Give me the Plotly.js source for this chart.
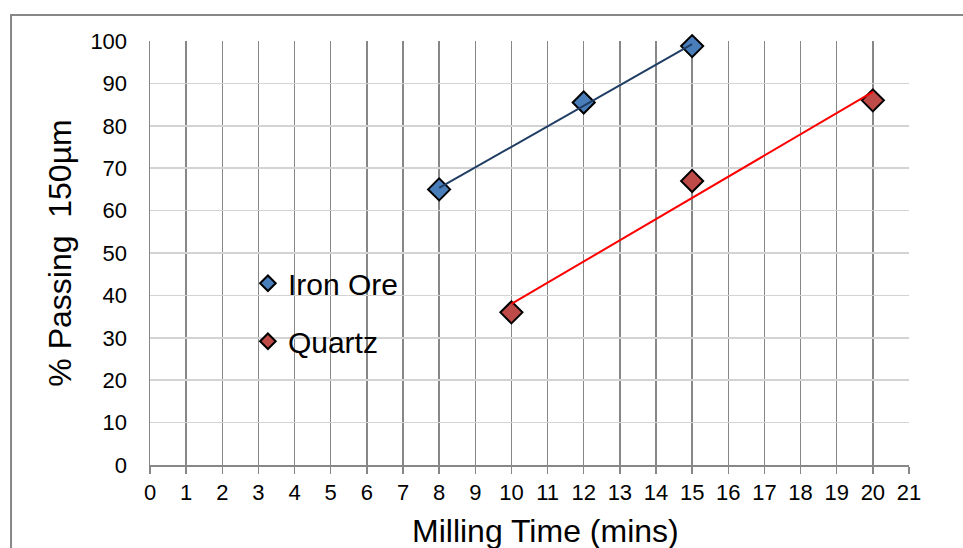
<!DOCTYPE html>
<html>
<head>
<meta charset="utf-8">
<script src="https://cdn.plot.ly/plotly-3.0.1.min.js"></script>
<style>
  html, body { margin: 0; padding: 0; background: #ffffff; }
  #chart { width: 963px; height: 548px; }
</style>
</head>
<body>
<div id="chart"></div>
<script>
// Milling time (minutes) and % passing 150 µm for each material
const ironOreTime = [8, 12, 15];
const ironOrePassing = [65, 85.5, 98.8];
const quartzTime = [10, 15, 20];
const quartzPassing = [36, 67, 86];

const xTickVals = [0, 1, 2, 3, 4, 5, 6, 7, 8, 9, 10, 11, 12, 13, 14, 15, 16, 17, 18, 19, 20, 21];
const yTickVals = [0, 10, 20, 30, 40, 50, 60, 70, 80, 90, 100];

const xTitle = 'Milling Time (mins)';
const yTitle = '% Passing  150µm';

// Least-squares linear trendline, drawn across the span of the data
function linearTrend(xs, ys) {
  const n = xs.length;
  const mx = xs.reduce((a, b) => a + b, 0) / n;
  const my = ys.reduce((a, b) => a + b, 0) / n;
  let sxy = 0, sxx = 0;
  for (let i = 0; i < n; i++) {
    sxy += (xs[i] - mx) * (ys[i] - my);
    sxx += (xs[i] - mx) * (xs[i] - mx);
  }
  const slope = sxy / sxx;
  const x0 = Math.min(...xs), x1 = Math.max(...xs);
  return { x: [x0, x1], y: [my + slope * (x0 - mx), my + slope * (x1 - mx)] };
}

const ironTrend = linearTrend(ironOreTime, ironOrePassing);
const quartzTrend = linearTrend(quartzTime, quartzPassing);

const FONT = 'Liberation Sans, Arial, sans-serif';
const AXIS_GREY = '#878787';

const traces = [
  {
    x: ironOreTime, y: ironOrePassing, name: 'Iron Ore', type: 'scatter', mode: 'markers',
    legendgroup: 'iron', cliponaxis: false,
    marker: { symbol: 'diamond', size: 17, color: '#4a7ebb', line: { color: '#000000', width: 2 } },
    hoverinfo: 'x+y'
  },
  {
    x: quartzTime, y: quartzPassing, name: 'Quartz', type: 'scatter', mode: 'markers',
    legendgroup: 'quartz', cliponaxis: false,
    marker: { symbol: 'diamond', size: 17, color: '#be4b48', line: { color: '#000000', width: 2 } },
    hoverinfo: 'x+y'
  },
  {
    x: ironTrend.x, y: ironTrend.y, type: 'scatter', mode: 'lines', showlegend: false,
    cliponaxis: false,
    line: { color: '#1f3d63', width: 2 }, hoverinfo: 'skip'
  },
  {
    x: quartzTrend.x, y: quartzTrend.y, type: 'scatter', mode: 'lines', showlegend: false,
    cliponaxis: false,
    line: { color: '#ff0000', width: 2 }, hoverinfo: 'skip'
  }
];

const layout = {
  width: 963,
  height: 548,
  margin: { l: 150, r: 54, t: 41, b: 83, pad: 0 },
  paper_bgcolor: '#ffffff',
  plot_bgcolor: '#ffffff',
  font: { family: FONT, color: '#000000', size: 22 },
  showlegend: true,
  legend: {
    x: 0.129, y: 0.49, xanchor: 'left', yanchor: 'top',
    font: { family: FONT, size: 30, color: '#000000' },
    bgcolor: 'rgba(0,0,0,0)',
    tracegroupgap: 16,
    itemsizing: 'constant'
  },
  xaxis: {
    range: [0, 21],
    tickmode: 'array', tickvals: xTickVals,
    showgrid: true, gridcolor: AXIS_GREY, gridwidth: 1.5,
    zeroline: false,
    showline: true, linecolor: AXIS_GREY, linewidth: 1.5,
    ticks: 'outside', ticklen: 7, tickcolor: AXIS_GREY, tickwidth: 1.5,
    tickfont: { family: FONT, size: 22, color: '#000000' },
    automargin: false,
    fixedrange: true
  },
  yaxis: {
    range: [0, 100],
    tickmode: 'array', tickvals: yTickVals,
    showgrid: true, gridcolor: '#d3d3d3', gridwidth: 1.5,
    zeroline: false,
    showline: true, linecolor: AXIS_GREY, linewidth: 1.5,
    ticks: '',
    ticklabelstandoff: 17,
    tickfont: { family: FONT, size: 22, color: '#000000' },
    title: { text: yTitle, font: { family: FONT, size: 32, color: '#000000' }, standoff: 9 },
    automargin: false,
    fixedrange: true
  },
  annotations: [
    {
      // x-axis title, set slightly right of the plot centre
      text: xTitle, xref: 'paper', yref: 'paper',
      x: 0.5216, y: -0.1075, xanchor: 'center', yanchor: 'top',
      showarrow: false,
      font: { family: FONT, size: 32, color: '#000000' }
    }
  ],
  shapes: [
    {
      type: 'rect', xref: 'paper', yref: 'paper',
      x0: -0.1831, x1: 1.3, y0: -0.5, y1: 1.0613,
      line: { color: AXIS_GREY, width: 2 }, fillcolor: 'rgba(0,0,0,0)', layer: 'below'
    }
  ]
};

Plotly.newPlot('chart', traces, layout, { displayModeBar: false, staticPlot: true });
</script>
</body>
</html>
